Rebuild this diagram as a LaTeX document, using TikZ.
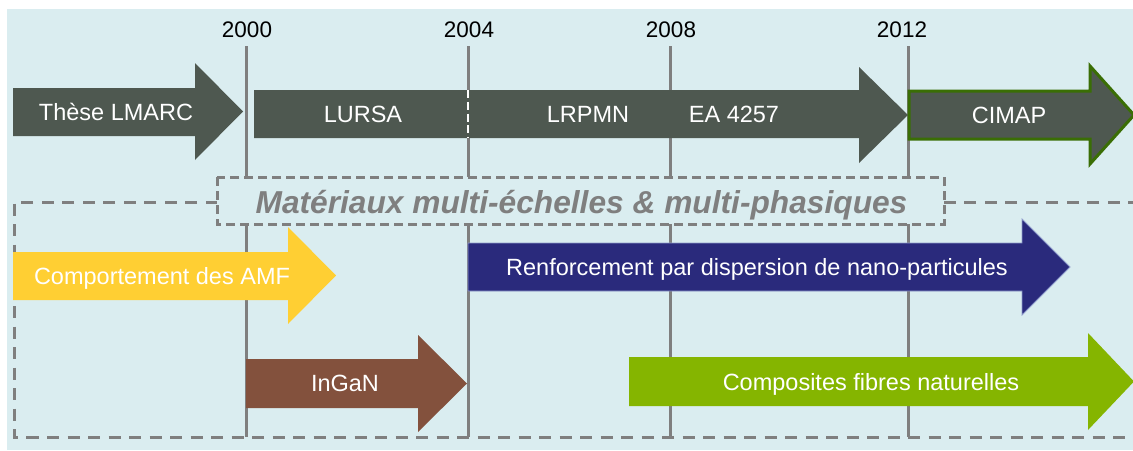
\documentclass[tikz,border=0pt]{standalone}
\usepackage{fontspec}
\setmainfont{Liberation Sans}
\definecolor{bgblue}{HTML}{DAEDF0}
\definecolor{darkarrow}{HTML}{4E5850}
\definecolor{cimapedge}{HTML}{3A6E05}
\definecolor{amfyellow}{HTML}{FFCF33}
\definecolor{navyarrow}{HTML}{2A2A7C}
\definecolor{navyedge}{HTML}{8E9BCB}
\definecolor{ingan}{HTML}{83513D}
\definecolor{fibregreen}{HTML}{85B500}
\definecolor{greyline}{HTML}{7F7F7F}
% #1 style, #2 x start, #3 x head, #4 x tip, #5 body top, #6 body bottom, #7 head top, #8 head bottom
\newcommand\tlarrow[8]{%
  \path[#1] (#2,#5) -- (#3,#5) -- (#3,#7) -- (#4,{(#7+#8)/2}) -- (#3,#8) -- (#3,#6) -- (#2,#6) -- cycle;}
\begin{document}
\begin{tikzpicture}[x=1pt,y=-1pt,
  yearline/.style={draw=greyline,line width=3pt},
  yearlabel/.style={font=\fontsize{22.5}{26}\selectfont,text=black,anchor=base,inner sep=0pt},
  arrowlabel/.style={font=\fontsize{23.5}{28}\selectfont,text=white,anchor=base,inner sep=0pt},
  bigbox/.style={draw=greyline,line width=3pt,dash pattern=on 12pt off 8.5pt},
  titlebox/.style={draw=greyline,line width=3pt,dash pattern=on 9pt off 5pt,fill=bgblue}]
\useasboundingbox (0,0) rectangle (1133,450);
\fill[bgblue] (7,9) rectangle (1133,450);
% year labels
\node[yearlabel] (y2000) at (247,37) {2000};
\node[yearlabel] (y2004) at (469,37) {2004};
\node[yearlabel] (y2008) at (671,37) {2008};
\node[yearlabel] (y2012) at (902,37) {2012};
% year lines
\coordinate (t2000) at (246.5,46); \coordinate (b2000) at (246.5,437);
\coordinate (t2004) at (468,46);   \coordinate (b2004) at (468,437);
\coordinate (t2008) at (670,46);   \coordinate (b2008) at (670,437);
\coordinate (t2012) at (908,46);   \coordinate (b2012) at (908,437);
\draw[yearline] (t2000) -- (b2000);
\draw[yearline] (t2004) -- (b2004);
\draw[yearline] (t2008) -- (b2008);
\draw[yearline] (t2012) -- (b2012);
% big dashed frame (open on the right)
\coordinate (f1) at (1140,202); \coordinate (f2) at (14,202);
\coordinate (f3) at (14,437);   \coordinate (f4) at (1140,437);
\draw[bigbox] (f1) -- (f2) -- (f3) -- (f4);
% top arrows
\tlarrow{fill=darkarrow}{13}{195}{243}{88}{136}{63}{160}
\tlarrow{fill=darkarrow}{254}{859}{908}{90}{138}{67}{163}
\tlarrow{fill=darkarrow,draw=cimapedge,line width=3pt,line join=miter}{909}{1090}{1134}{91}{139}{66}{164}
\coordinate (ds1) at (468,90); \coordinate (ds2) at (468,138);
\draw[white,line width=2.6pt,dash pattern=on 8pt off 3.8pt] (ds1) -- (ds2);
% middle arrows
\tlarrow{fill=amfyellow}{13}{288}{336}{252}{300}{227}{324}
\tlarrow{fill=navyarrow,draw=navyedge,line width=0.8pt}{468}{1022}{1070}{243}{291}{219}{315}
\tlarrow{fill=ingan}{246}{418}{467}{359}{408}{335}{432}
\tlarrow{fill=fibregreen}{629}{1088}{1134}{357}{406}{333}{430}
% title box
\coordinate (tb1) at (217,177); \coordinate (tb2) at (944,224);
\draw[titlebox] (tb1) rectangle (tb2);
\node[font=\fontsize{31.7}{36}\selectfont\bfseries\itshape,text=greyline,anchor=base,inner sep=0pt] (title) at (581.5,213.3) {Matériaux multi-échelles \& multi-phasiques};
% arrow labels
\node[arrowlabel] (these) at (116,120.4) {Thèse LMARC};
\node[arrowlabel] (lursa) at (363,122.4) {LURSA};
\node[arrowlabel] (lrpmn) at (588,122.4) {LRPMN};
\node[arrowlabel] (ea) at (734,122.4) {EA 4257};
\node[arrowlabel] (cimap) at (1009,123.4) {CIMAP};
\node[arrowlabel] (amf) at (162,284.4) {Comportement des AMF};
\node[arrowlabel] (renf) at (757,275.4) {Renforcement par dispersion de nano-particules};
\node[arrowlabel] (ingaN) at (345,391.4) {InGaN};
\node[arrowlabel] (fibres) at (871,390.4) {Composites fibres naturelles};
\end{tikzpicture}
\end{document}
